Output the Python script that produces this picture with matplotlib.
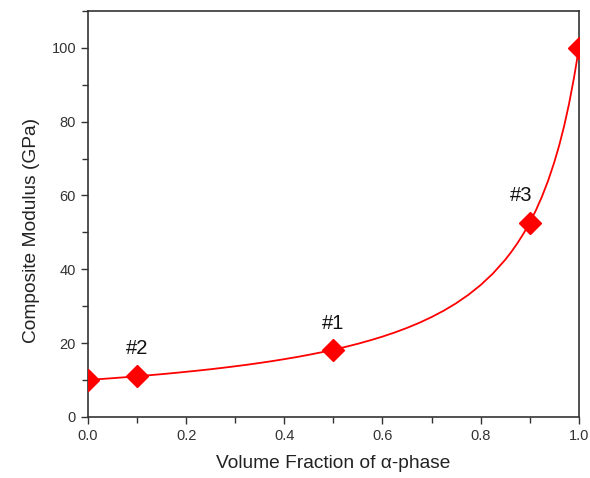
import matplotlib
matplotlib.use("Agg")
import matplotlib.pyplot as plt
from matplotlib.ticker import MultipleLocator

plt.rcParams['font.family'] = ['Liberation Sans', 'DejaVu Sans']

# Curve values
curve_x = [0.0, 0.025, 0.05, 0.075, 0.1, 0.125, 0.15, 0.175, 0.2, 0.225, 0.25, 0.275,
           0.3, 0.325, 0.35, 0.375, 0.4, 0.425, 0.45, 0.475, 0.5, 0.525, 0.55, 0.575,
           0.6, 0.625, 0.65, 0.675, 0.7, 0.725, 0.75, 0.775, 0.8, 0.825, 0.85, 0.8625,
           0.875, 0.8875, 0.9, 0.9125, 0.925, 0.9375, 0.95, 0.96, 0.97, 0.98, 0.99,
           0.995, 1.0]
curve_y = [10.0, 10.23, 10.47, 10.72, 11.0, 11.27, 11.56, 11.87, 12.2, 12.54, 12.9, 13.29,
           13.7, 14.13, 14.6, 15.09, 15.63, 16.19, 16.81, 17.47, 18.18, 18.96, 19.8, 20.73,
           21.74, 22.86, 24.1, 25.48, 27.03, 28.78, 30.77, 33.06, 35.71, 38.83, 42.55, 44.69,
           47.06, 49.69, 52.63, 55.94, 59.7, 64.0, 68.97, 73.53, 78.74, 84.75, 91.74,
           95.69, 100.0]

# Marked samples
point_x = [0.0, 0.1, 0.5, 0.9, 1.0]
point_y = [10.0, 11.0, 18.2, 52.6, 100.0]

labels = ["#2", "#1", "#3"]
label_x = [0.1, 0.5, 0.882]
label_y = [18.6, 25.2, 60.0]

fig = plt.figure(figsize=(5.9, 4.78), dpi=100)
ax = fig.add_axes([0.149, 0.128, 0.832, 0.849])

ax.plot(curve_x, curve_y, color='#ff0000', lw=1.3, zorder=2)
ax.plot(point_x, point_y, linestyle='none', marker='D', ms=11, color='#ff0000',
        mec='#ff0000', zorder=3)

for t, x, y in zip(labels, label_x, label_y):
    ax.text(x, y, t, ha='center', va='center', fontsize=14.5, color='#111111')

ax.set_xlim(0, 1.0)
ax.set_ylim(0, 110)
ax.xaxis.set_major_locator(MultipleLocator(0.2))
ax.xaxis.set_minor_locator(MultipleLocator(0.1))
ax.yaxis.set_major_locator(MultipleLocator(20))
ax.yaxis.set_minor_locator(MultipleLocator(10))
ax.xaxis.set_major_formatter(plt.FuncFormatter(lambda v, p: f"{v:.1f}"))

ax.tick_params(which='both', direction='out', color='#333333', width=1, labelsize=10.5,
               labelcolor='#333333')
ax.tick_params(which='major', length=5)
ax.tick_params(which='minor', length=4)
for s in ax.spines.values():
    s.set_color('#333333')
    s.set_linewidth(1.2)

ax.set_xlabel('Volume Fraction of α-phase', fontsize=13.8, color='#222222', labelpad=9)
ax.set_ylabel('Composite Modulus (GPa)', fontsize=13.8, color='#222222')
ax.yaxis.set_label_coords(-0.098, 0.46)

fig.savefig('out.png', dpi=100)
